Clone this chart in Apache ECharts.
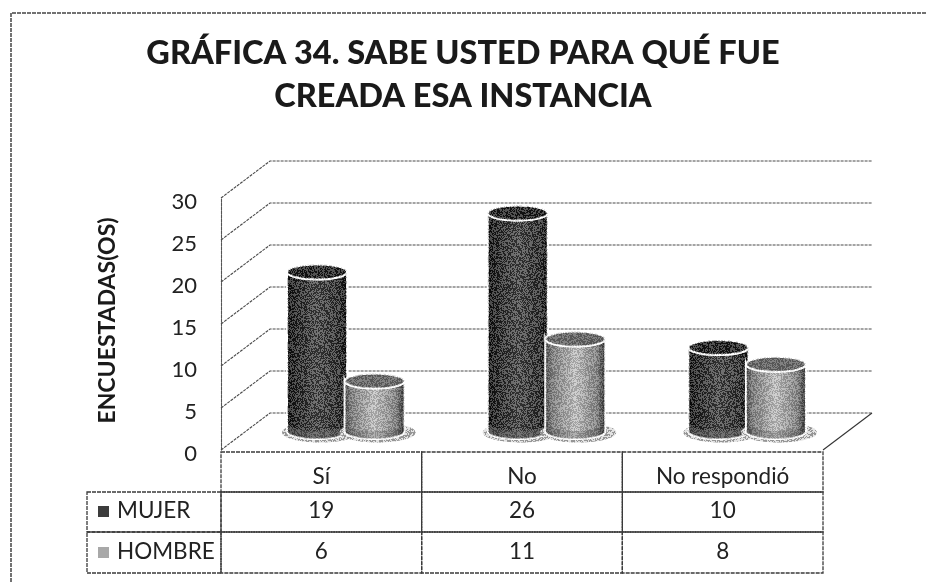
<!DOCTYPE html>
<html><head><meta charset="utf-8">
<style>html,body{margin:0;padding:0;background:#fff}#c{width:926px;height:582px}</style>
<script src="https://cdn.jsdelivr.net/npm/echarts@6/dist/echarts.min.js"></script>
</head><body><div id="c"></div>
<script>
const categories = ['Sí', 'No', 'No respondió'];
const mujer = [19, 26, 10];
const hombre = [6, 11, 8];
const yTicks = [0, 5, 10, 15, 20, 25, 30];
const seriesNames = ['MUJER', 'HOMBRE'];

const font = 'Lato';
const depth = {dx: 49, dy: -37};
const RX = 30, RY = 7.5, OFF = 28.75;
const rowY = [452, 492, 532, 573];
const rowText = [477, 511, 552];
const lineColor = '#4a4a4a';
const tableFont = '22.5px ' + font;

const chart = echarts.init(document.getElementById('c'), null, {renderer: 'canvas'});

function tile(seed, alpha) {
  const c = document.createElement('canvas'); c.width = c.height = 64;
  const g = c.getContext('2d'); let s = seed;
  for (let y = 0; y < 64; y++) for (let x = 0; x < 64; x++) {
    s = (s * 1103515245 + 12345) & 0x7fffffff;
    const v = (s >> 16) & 255;
    g.fillStyle = v % 2 ? 'rgba(255,255,255,' + alpha + ')' : 'rgba(0,0,0,' + alpha + ')';
    g.fillRect(x, y, 1, 1);
  }
  return {image: c, repeat: 'repeat'};
}
const grain = [tile(7, 0.26), tile(11, 0.17)];
const shadowGrain = tile(23, 0.3);

function bodyPts(cx, top, bot, rx) {
  const p = [[cx - rx, top]];
  for (let i = 0; i <= 24; i++) {
    const a = Math.PI - Math.PI * i / 24;
    p.push([cx + rx * Math.cos(a), bot + RY * Math.sin(a)]);
  }
  p.push([cx + rx, top]);
  for (let i = 1; i < 24; i++) {
    const a = Math.PI * i / 24;
    p.push([cx + rx * Math.cos(a), top + RY * Math.sin(a)]);
  }
  return p;
}
const grads = [
  [[0, '#000'], [0.1, '#141414'], [0.5, '#434343'], [0.85, '#262626'], [1, '#050505']],
  [[0, '#3c3c3c'], [0.12, '#808080'], [0.5, '#c8c8c8'], [0.85, '#868686'], [1, '#222']]
];
const capColor = ['#161616', '#686868'];
const lowColor = ['rgba(120,120,120,0.4)', 'rgba(40,40,40,0.18)'];

function cylSeries(values, idx) {
  return {
    type: 'custom', name: seriesNames[idx], z: 5 + idx,
    data: values.map((v, i) => [i, v]),
    encode: {x: 0, y: 1},
    renderItem(params, api) {
      const [x, yv] = api.coord([api.value(0), api.value(1)]);
      const y0 = api.coord([0, 0])[1];
      const cx = x + depth.dx / 2 + (idx ? OFF : -OFF);
      const bot = y0 + depth.dy / 2, top = yv + depth.dy / 2;
      const grad = new echarts.graphic.LinearGradient(0, 0, 1, 0,
        grads[idx].map(g => ({offset: g[0], color: g[1]})));
      const pts = bodyPts(cx, top, bot, RX);
      return {type: 'group', children: [
        {type: 'ellipse', shape: {cx: cx + 3, cy: bot + 1, rx: RX + 8, ry: RY + 2.5},
          style: {fill: '#d6d6d6'}},
        {type: 'ellipse', shape: {cx: cx + 3, cy: bot + 1, rx: RX + 8, ry: RY + 2.5},
          style: {fill: shadowGrain}},
        {type: 'polygon', shape: {points: pts}, style: {fill: grad, stroke: '#fff', lineWidth: 2}},
        {type: 'polygon', shape: {points: pts}, style: {fill: grain[idx]}},
        {type: 'polygon', shape: {points: bodyPts(cx, bot - 8, bot, RX - 1)}, style: {fill: lowColor[idx]}},
        {type: 'ellipse', shape: {cx, cy: top, rx: RX, ry: RY},
          style: {fill: capColor[idx], stroke: '#fff', lineWidth: 2}},
        {type: 'ellipse', shape: {cx, cy: top, rx: RX, ry: RY}, style: {fill: grain[idx]}}
      ]};
    }
  };
}

const wallSeries = {
  type: 'custom', name: 'walls', silent: true, z: 1,
  data: yTicks.map(t => [0, t]),
  encode: {y: 1},
  renderItem(params, api) {
    const y = api.coord([0, api.value(1)])[1];
    const rect = params.coordSys;
    const xb = rect.x + depth.dx, xe = rect.x + rect.width + depth.dx;
    return {type: 'polyline',
      shape: {points: [[rect.x, y], [xb, y + depth.dy], [xe, y + depth.dy]]},
      style: {fill: 'none', stroke: lineColor, lineWidth: 1.1, lineDash: [3, 1]}};
  }
};
const floorSeries = {
  type: 'custom', name: 'floor', silent: true, z: 1,
  data: [[0, 0]], encode: {y: 1},
  renderItem(params, api) {
    const y = api.coord([0, 0])[1];
    const rect = params.coordSys, xr = rect.x + rect.width;
    return {type: 'polyline',
      shape: {points: [[xr, y], [xr + depth.dx, y + depth.dy]]},
      style: {fill: 'none', stroke: '#333', lineWidth: 1.1}};
  }
};

// data table built from the arrays
const tableRows = [categories, mujer, hombre];
const tableData = [];
tableRows.forEach((row, r) => row.forEach((v, c) => tableData.push([c, 0, r, String(v)])));
const tableSeries = {
  type: 'custom', name: 'table', silent: true, z: 3,
  data: tableData, encode: {x: 0},
  clip: false,
  renderItem(params, api) {
    const i = params.dataIndex, d = tableData[i];
    const x = api.coord([d[0], 0])[0], w = api.size([1, 0])[0];
    const r = d[2];
    return {type: 'group', children: [
      {type: 'rect', shape: {x: x - w / 2, y: rowY[r], width: w, height: rowY[r + 1] - rowY[r]},
        style: {fill: 'none', stroke: '#3a3a3a', lineWidth: 1.3, lineDash: [4, 1]}},
      {type: 'text', style: {x, y: rowText[r], text: d[3], fill: '#222', font: tableFont,
        align: 'center', verticalAlign: 'middle'}}
    ]};
  }
};

const option = {
  animation: false,
  backgroundColor: '#fff',
  title: {
    text: 'GRÁFICA 34. SABE USTED PARA QUÉ FUE\nCREADA ESA INSTANCIA',
    left: 458, top: 27, textAlign: 'center',
    textStyle: {fontFamily: font, fontSize: 32.5, fontWeight: 900, color: '#1a1a1a', lineHeight: 43}
  },
  grid: {left: 221, top: 198, width: 602, height: 252},
  xAxis: {type: 'category', data: categories, show: false, boundaryGap: true},
  yAxis: {
    type: 'value', min: 0, max: 30, interval: 5,
    name: 'ENCUESTADAS(OS)', nameLocation: 'middle', nameGap: 102, nameRotate: 90,
    nameTextStyle: {fontFamily: font, fontSize: 23, fontWeight: 'bold', color: '#1a1a1a', padding: [0, 0, 0, 7]},
    axisLine: {show: true, lineStyle: {color: '#555', width: 1.1, type: [3, 1]}},
    axisTick: {show: false}, splitLine: {show: false},
    axisLabel: {margin: 24, fontFamily: font, fontSize: 22, color: '#222', verticalAlign: 'top', lineHeight: 8}
  },
  graphic: [
    {type: 'polyline', silent: true, shape: {points: [[11, 582], [11, 13], [926, 13]]},
      style: {fill: 'none', stroke: '#444', lineWidth: 1.5, lineDash: [4, 1]}},
    {type: 'rect', silent: true, shape: {x: 87, y: rowY[1], width: 134, height: rowY[2] - rowY[1]},
      style: {fill: 'none', stroke: '#3a3a3a', lineWidth: 1.3, lineDash: [4, 1]}},
    {type: 'rect', silent: true, shape: {x: 87, y: rowY[2], width: 134, height: rowY[3] - rowY[2]},
      style: {fill: 'none', stroke: '#3a3a3a', lineWidth: 1.3, lineDash: [4, 1]}},
    {type: 'rect', silent: true, shape: {x: 98, y: rowText[1] - 5, width: 11, height: 11}, style: {fill: '#3c3c3c'}},
    {type: 'rect', silent: true, shape: {x: 98, y: rowText[2] - 5, width: 11, height: 11}, style: {fill: '#a8a8a8'}},
    {type: 'text', silent: true, style: {x: 117, y: rowText[1], text: seriesNames[0], fill: '#222', font: tableFont, verticalAlign: 'middle'}},
    {type: 'text', silent: true, style: {x: 117, y: rowText[2], text: seriesNames[1], fill: '#222', font: tableFont, verticalAlign: 'middle'}}
  ],
  series: [wallSeries, floorSeries, tableSeries, cylSeries(mujer, 0), cylSeries(hombre, 1)]
};
chart.setOption(option);
</script></body></html>
